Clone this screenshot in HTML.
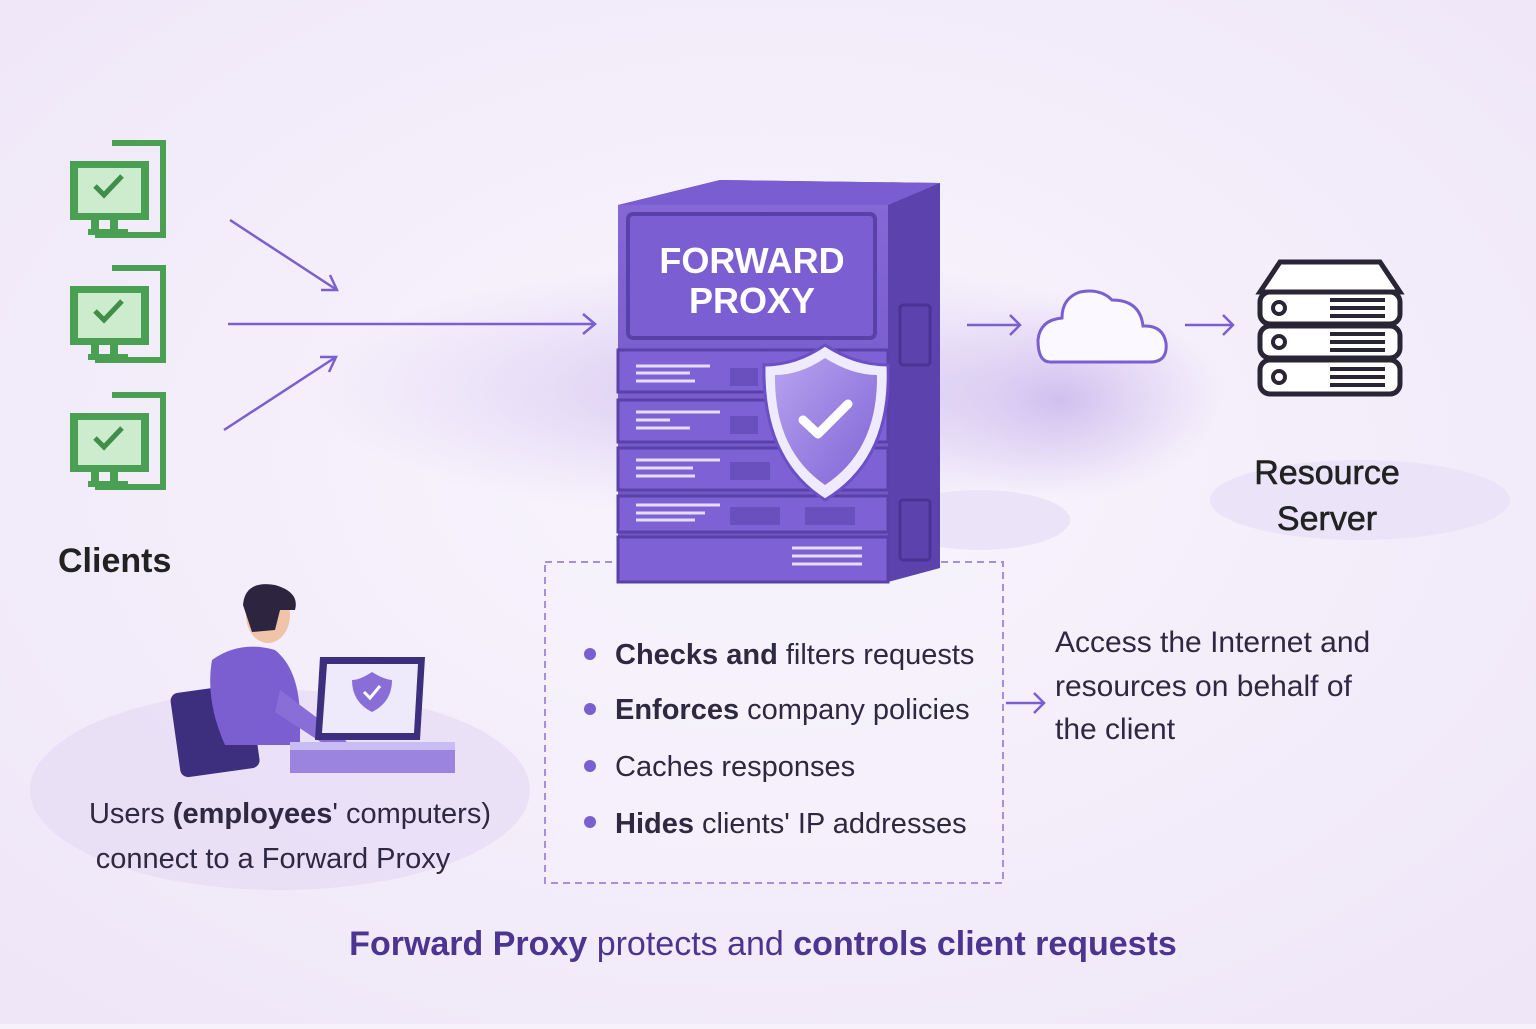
<!DOCTYPE html>
<html><head><meta charset="utf-8"><style>
body{margin:0;width:1536px;height:1024px;overflow:hidden;background:#f6f1fb;font-family:"Liberation Sans",sans-serif}
</style></head><body>
<svg width="1536" height="1024" viewBox="0 0 1536 1024" xmlns="http://www.w3.org/2000/svg" font-family="Liberation Sans, sans-serif">
<defs>
<radialGradient id="bg" cx="0.5" cy="0.45" r="0.7"><stop offset="0" stop-color="#f9f5fd"/><stop offset="1" stop-color="#efe7f8"/></radialGradient>
<radialGradient id="fog" cx="0.5" cy="0.5" r="0.5"><stop offset="0" stop-color="#c9b6ec" stop-opacity="0.8"/><stop offset="1" stop-color="#d9cbf2" stop-opacity="0"/></radialGradient>
<linearGradient id="front" x1="0" y1="0" x2="0" y2="1"><stop offset="0" stop-color="#8567d6"/><stop offset="1" stop-color="#6e52c4"/></linearGradient>
<linearGradient id="shield" x1="0" y1="0" x2="1" y2="1"><stop offset="0" stop-color="#b7a3ef"/><stop offset="1" stop-color="#8064d6"/></linearGradient>
<g id="pc">
<path d="M112,143 H163 V235 H95" fill="none" stroke="#4aa052" stroke-width="6"/>
<rect x="70" y="161" width="79" height="59" fill="#4aa052"/>
<rect x="78" y="168" width="63" height="45" fill="#cdeccd"/>
<rect x="91" y="220" width="8" height="10" fill="#4aa052"/><rect x="110" y="220" width="8" height="10" fill="#4aa052"/>
<rect x="88" y="229" width="40" height="6" fill="#4aa052"/>
<path d="M95,186 L104,195 L122,176" fill="none" stroke="#3f8f48" stroke-width="5"/>
</g>
</defs>
<rect width="1536" height="1024" fill="url(#bg)"/>
<ellipse cx="770" cy="390" rx="460" ry="130" fill="url(#fog)"/>
<ellipse cx="1060" cy="400" rx="160" ry="100" fill="url(#fog)"/>
<ellipse cx="280" cy="790" rx="250" ry="100" fill="#e6dcf5" opacity="0.7"/>
<ellipse cx="1360" cy="500" rx="150" ry="40" fill="#ebe3f7"/>
<ellipse cx="980" cy="520" rx="90" ry="30" fill="#ebe3f7"/>

<use href="#pc"/><use href="#pc" y="125"/><use href="#pc" y="252"/>
<text x="58" y="572" font-size="34" font-weight="bold" fill="#222">Clients</text>

<g stroke="#7a5fd0" stroke-width="2.5" fill="none">
<path d="M230,220 L337,290"/><path d="M321,290 L337,290 L330,275"/>
<path d="M228,324 H595"/><path d="M583,314 L595,324 L583,334"/>
<path d="M224,430 L336,357"/><path d="M320,357 L336,357 L329,372"/>
<path d="M967,325 H1020"/><path d="M1010,315 L1020,325 L1010,335"/>
<path d="M1185,325 H1233"/><path d="M1223,315 L1233,325 L1223,335"/>
<path d="M1006,703 H1044"/><path d="M1034,693 L1044,703 L1034,713"/>
</g>

<!-- dashed box (behind server) -->
<rect x="545" y="562" width="458" height="321" fill="#f6f1fb" fill-opacity="0.5" stroke="#a58fdf" stroke-width="2" stroke-dasharray="7,5"/>

<!-- server -->
<path d="M618,205 L720,180 L940,183 L940,568 L888,582 L888,205 Z" fill="#5b42ad"/>
<path d="M618,205 L720,180 L940,183 L888,205 Z" fill="#7a5dd0"/>
<rect x="618" y="205" width="270" height="377" fill="url(#front)"/>
<rect x="628" y="214" width="247" height="124" rx="5" fill="#7c5ed3" stroke="#5a41a8" stroke-width="4"/>
<text x="752" y="273" font-size="36" font-weight="bold" fill="#fff" text-anchor="middle">FORWARD</text>
<text x="752" y="313" font-size="36" font-weight="bold" fill="#fff" text-anchor="middle">PROXY</text>
<g fill="#7e62d5" stroke="#5a41a8" stroke-width="3">
<rect x="618" y="350" width="270" height="42"/><rect x="618" y="400" width="270" height="42"/>
<rect x="618" y="448" width="270" height="42"/><rect x="618" y="496" width="270" height="36"/>
<rect x="618" y="537" width="270" height="45"/>
</g>
<g stroke="#e6dcfb" stroke-width="3">
<path d="M636,366 H710 M636,373 H690 M636,381 H695"/>
<path d="M636,412 H720 M636,420 H670 M636,428 H690"/>
<path d="M636,460 H720 M636,468 H693 M636,476 H695"/>
<path d="M636,505 H720 M636,513 H705 M636,520 H695"/>
<path d="M792,548 H862 M792,556 H862 M792,564 H862"/>
</g>
<g fill="#6a4fbe"><rect x="730" y="368" width="28" height="18"/><rect x="730" y="416" width="28" height="18"/><rect x="730" y="462" width="40" height="18"/><rect x="730" y="507" width="50" height="18"/><rect x="805" y="507" width="50" height="18"/></g>
<rect x="900" y="305" width="30" height="60" rx="3" fill="none" stroke="#4a3395" stroke-width="3"/>
<rect x="900" y="500" width="30" height="60" rx="3" fill="none" stroke="#4a3395" stroke-width="3"/>
<path d="M825,345 Q855,365 888,365 Q892,460 825,500 Q762,460 764,365 Q796,365 825,345Z" fill="#f0eafd" stroke="#6a4fc6" stroke-width="3"/>
<path d="M825,358 Q852,375 877,375 Q878,450 825,485 Q774,450 775,375 Q800,375 825,358Z" fill="url(#shield)"/>
<path d="M803,420 L818,434 L848,404" fill="none" stroke="#fff" stroke-width="9" stroke-linecap="round" stroke-linejoin="round"/>

<!-- cloud -->
<path d="M1050,362 H1150 Q1168,362 1166,343 Q1163,325 1143,326 Q1140,300 1112,300 Q1100,288 1080,292 Q1062,298 1062,318 Q1040,320 1038,340 Q1038,362 1050,362Z" fill="#fbf9ff" stroke="#7a5fd0" stroke-width="3"/>

<!-- resource server -->
<g fill="#fff" stroke="#2a2535" stroke-width="5">
<path d="M1260,292 L1280,262 H1380 L1400,292 Z"/>
<rect x="1260" y="292" width="140" height="32" rx="10"/>
<rect x="1260" y="326" width="140" height="32" rx="10"/>
<rect x="1260" y="360" width="140" height="34" rx="10"/>
</g>
<g fill="none" stroke="#2a2535" stroke-width="4">
<circle cx="1279" cy="308" r="6"/><circle cx="1279" cy="342" r="6"/><circle cx="1279" cy="377" r="6"/>
<path d="M1330,300 H1385 M1330,308 H1385 M1330,316 H1385 M1330,334 H1385 M1330,342 H1385 M1330,350 H1385 M1330,369 H1385 M1330,377 H1385 M1330,385 H1385"/>
</g>
<text x="1327" y="484" font-size="34" fill="#222" text-anchor="middle" stroke="#222" stroke-width="0.6">Resource</text>
<text x="1327" y="530" font-size="34" fill="#222" text-anchor="middle" stroke="#222" stroke-width="0.6">Server</text>

<g font-size="29" fill="#2e2840">
<circle cx="590" cy="654" r="6" fill="#7a5fd0"/><text x="615" y="664"><tspan font-weight="bold">Checks and</tspan> filters requests</text>
<circle cx="590" cy="709" r="6" fill="#7a5fd0"/><text x="615" y="719"><tspan font-weight="bold">Enforces</tspan> company policies</text>
<circle cx="590" cy="766" r="6" fill="#7a5fd0"/><text x="615" y="776">Caches responses</text>
<circle cx="590" cy="822" r="6" fill="#7a5fd0"/><text x="615" y="833"><tspan font-weight="bold">Hides</tspan> clients' IP addresses</text>
</g>
<g font-size="30" fill="#2e2840">
<text x="1055" y="652">Access the Internet and</text>
<text x="1055" y="696">resources on behalf of</text>
<text x="1055" y="739">the client</text>
</g>

<!-- person -->
<rect x="175" y="688" width="80" height="85" rx="8" fill="#3e2f7e" transform="rotate(-8 215 730)"/>
<path d="M212,660 Q240,640 275,650 Q300,670 300,720 L300,745 L225,745 Q205,700 212,660Z" fill="#7b5fd0"/>
<path d="M280,690 L340,735 L350,745 L330,748 L275,712Z" fill="#8a6ed8"/>
<ellipse cx="268" cy="615" rx="22" ry="28" fill="#f0c4a8"/>
<path d="M243,605 Q245,580 275,585 Q300,592 295,610 L280,610 L275,630 L252,632Z" fill="#2d2540"/>
<path d="M320,657 L425,657 L420,740 L315,740Z" fill="#3e2f7e"/>
<path d="M327,664 L418,664 L414,733 L322,733Z" fill="#efe9fc"/>
<path d="M372,672 Q385,680 392,680 Q392,702 372,712 Q352,702 352,680 Q360,680 372,672Z" fill="#8a6ed8"/>
<path d="M364,692 L370,698 L380,686" fill="none" stroke="#fff" stroke-width="3"/>
<path d="M290,742 H455 V773 H290Z" fill="#9a84e0"/>
<rect x="290" y="742" width="165" height="8" fill="#c9bcf2"/>
<text x="290" y="823" font-size="29" fill="#2e2840" text-anchor="middle">Users <tspan font-weight="bold">(employees</tspan>' computers)</text>
<text x="273" y="868" font-size="29" fill="#2e2840" text-anchor="middle">connect to a Forward Proxy</text>

<text x="763" y="955" font-size="34" fill="#4b3591" text-anchor="middle"><tspan font-weight="bold">Forward Proxy</tspan> protects and <tspan font-weight="bold">controls client requests</tspan></text>
</svg>
</body></html>
